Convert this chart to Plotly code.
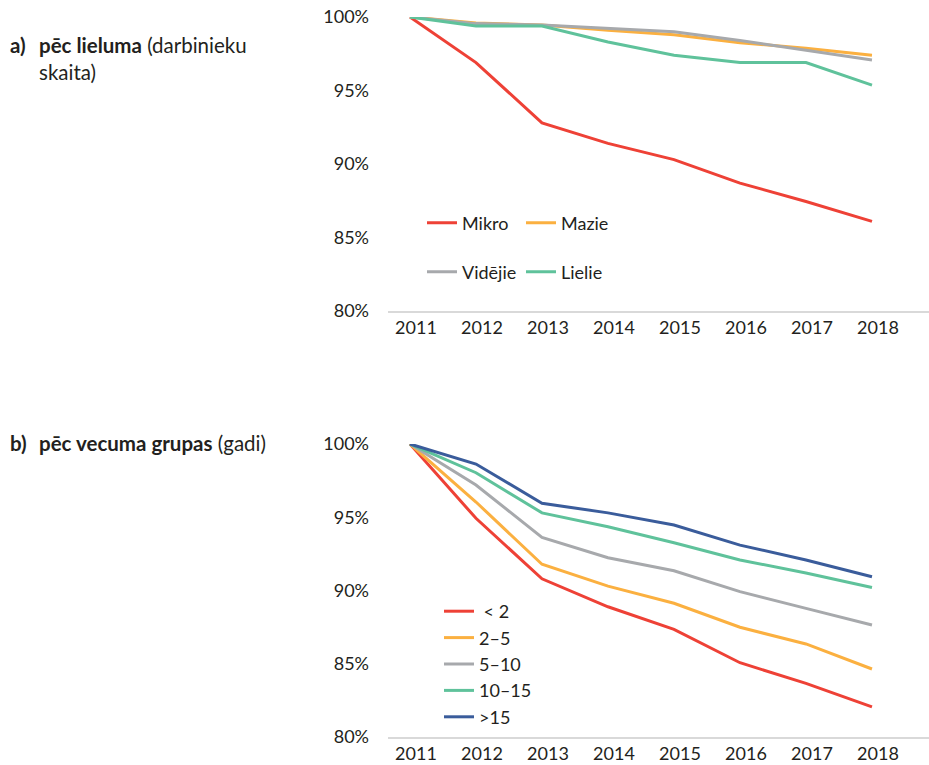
import plotly.graph_objects as go

years = ["2011", "2012", "2013", "2014", "2015", "2016", "2017", "2018"]

# a) by size (share of firms, %)
mikro = [100, 96.9, 92.8, 91.4, 90.3, 88.7, 87.45, 86.1]
mazie = [100, 99.6, 99.46, 99.1, 98.8, 98.25, 97.87, 97.4]
videjie = [100, 99.55, 99.46, 99.23, 99.0, 98.4, 97.75, 97.07]
lielie = [100, 99.39, 99.39, 98.3, 97.4, 96.9, 96.9, 95.37]

# b) by age group (years)
age_lt2 = [100, 94.93, 90.8, 88.89, 87.35, 85.07, 83.66, 82.06]
age_2_5 = [100, 96.04, 91.79, 90.3, 89.13, 87.49, 86.35, 84.64]
age_5_10 = [100, 97.2, 93.63, 92.24, 91.35, 89.92, 88.78, 87.65]
age_10_15 = [100, 98.04, 95.3, 94.35, 93.26, 92.08, 91.2, 90.2]
age_gt15 = [100, 98.63, 95.95, 95.3, 94.47, 93.1, 92.08, 90.94]

y_ticks = [80, 85, 90, 95, 100]
y_ticktext = ["80%", "85%", "90%", "95%", "100%"]

RED = "#EE4136"
ORANGE = "#FBB040"
GREY = "#A7A9AC"
GREEN = "#5FC29B"
BLUE = "#3A5C9B"
FONT = "Lato"
TXT = "#231F20"

fig = go.Figure()

def add(x, y, name, color, xa, ya, legend):
    fig.add_trace(go.Scatter(x=x, y=y, name=name, mode="lines",
                             line=dict(color=color, width=3),
                             xaxis=xa, yaxis=ya, legend=legend,
                             hoverinfo="x+y+name"))

add(years, mikro, "Mikro", RED, "x", "y", "legend")
add(years, mazie, "Mazie", ORANGE, "x", "y", "legend")
add(years, videjie, "Vidējie", GREY, "x", "y", "legend2")
add(years, lielie, "Lielie", GREEN, "x", "y", "legend2")

add(years, age_lt2, "\u00a0< 2", RED, "x2", "y2", "legend3")
add(years, age_2_5, "2–5", ORANGE, "x2", "y2", "legend3")
add(years, age_5_10, "5–10", GREY, "x2", "y2", "legend3")
add(years, age_10_15, "10–15", GREEN, "x2", "y2", "legend3")
add(years, age_gt15, ">15", BLUE, "x2", "y2", "legend3")

# body margin is removed in the page (post_script), so the figure fills the window
OFF = 0
W, H = 929 - OFF, 765 - OFF

def fx(px):
    return (px - OFF) / W

def fy(py):
    return (H - (py - OFF)) / H

xr = [-0.333, 7.864]

xaxis_common = dict(type="category", range=xr, showline=True, linecolor="#D9D9D9",
                    linewidth=1.5, showgrid=False, zeroline=False, ticks="",
                    tickfont=dict(family=FONT, size=18, color=TXT),
                    ticklabelshift=6, ticklabelstandoff=0, automargin=False,
                    ticklabeloverflow="allow", fixedrange=True)
yaxis_common = dict(range=[80, 100], tickvals=y_ticks, ticktext=y_ticktext,
                    showline=False, showgrid=False, zeroline=False, ticks="",
                    tickfont=dict(family=FONT, size=18, color=TXT),
                    ticklabelstandoff=18, automargin=False,
                    ticklabeloverflow="allow", fixedrange=True)

fig.update_layout(
    width=W, height=H,
    margin=dict(l=0, r=0, t=0, b=0, autoexpand=False),
    paper_bgcolor="white", plot_bgcolor="white",
    font=dict(family=FONT, size=18, color=TXT),
    xaxis=dict(domain=[fx(388), 1], anchor="y", **xaxis_common),
    yaxis=dict(domain=[fy(311), fy(17)], anchor="x", **yaxis_common),
    xaxis2=dict(domain=[fx(388), 1], anchor="y2", **xaxis_common),
    yaxis2=dict(domain=[fy(737), fy(444)], anchor="x2", **yaxis_common),
    legend=dict(orientation="h", x=fx(428 - 6), xanchor="left",
                y=fy(223), yanchor="middle", bgcolor="rgba(0,0,0,0)",
                font=dict(family=FONT, size=18, color=TXT),
                entrywidth=54, entrywidthmode="pixels", traceorder="normal"),
    legend2=dict(orientation="h", x=fx(428 - 6), xanchor="left",
                 y=fy(272), yanchor="middle", bgcolor="rgba(0,0,0,0)",
                 font=dict(family=FONT, size=18, color=TXT),
                 entrywidth=54, entrywidthmode="pixels", traceorder="normal"),
    legend3=dict(orientation="v", x=fx(445 - 6), xanchor="left",
                 y=fy(664), yanchor="middle", bgcolor="rgba(0,0,0,0)",
                 font=dict(family=FONT, size=18, color=TXT), traceorder="normal"),
    hovermode="closest",
)

ann = dict(xref="paper", yref="paper", xanchor="left", yanchor="middle",
           showarrow=False, font=dict(family=FONT, size=20.5, color=TXT))
fig.add_annotation(x=fx(8), y=fy(45), text="<b>a)</b>", **ann)
fig.add_annotation(x=fx(37), y=fy(45),
                   text="<b>pēc lieluma</b> (darbinieku", **ann)
fig.add_annotation(x=fx(37), y=fy(72), text="skaita)", **ann)
fig.add_annotation(x=fx(8), y=fy(443), text="<b>b)</b>", **ann)
fig.add_annotation(x=fx(37), y=fy(443),
                   text="<b>pēc vecuma grupas</b> (gadi)", **ann)

fig.write_html("out.html",
               config={"displayModeBar": False},
               post_script="document.body.style.margin='0';"
                           "document.body.style.overflow='hidden';")
